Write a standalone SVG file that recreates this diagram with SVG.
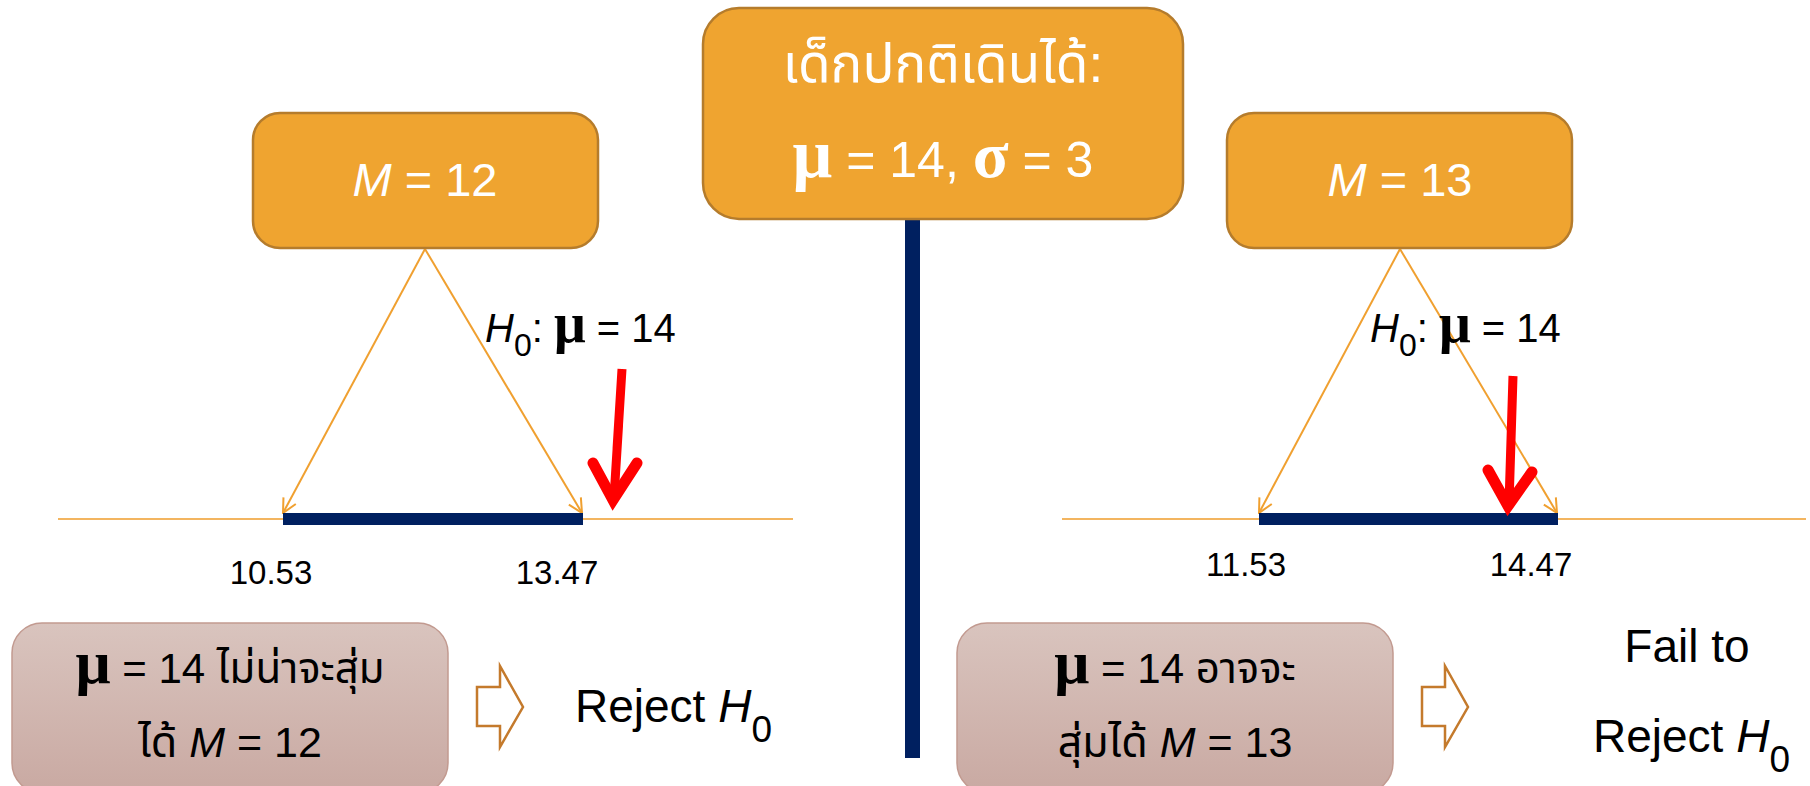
<svg xmlns="http://www.w3.org/2000/svg" width="1810" height="786" viewBox="0 0 1810 786">
<defs>
<style>
.t{font-family:"Liberation Sans","Noto Sans Thai","Noto Sans Thai Looped","Garuda","Loma","Norasi",sans-serif;}
.g{font-family:"Liberation Serif","DejaVu Serif",serif;font-weight:bold;}
.w{fill:#ffffff;}
.k{fill:#000000;}
.ob{fill:#efa430;stroke:#b57c2c;stroke-width:2.5;}
.pb{fill:url(#pg);stroke:#c29a90;stroke-width:1.5;}
.con{stroke:#f0a030;stroke-width:2;fill:none;marker-end:url(#oa);}
.axis{stroke:#f3b560;stroke-width:2;}
.bar{fill:#002060;}
.red{stroke:#ff0000;fill:none;}
.blk{fill:#ffffff;stroke:#c47a2c;stroke-width:2.5;stroke-linejoin:miter;}
</style>
<linearGradient id="pg" x1="0" y1="0" x2="0" y2="1">
<stop offset="0" stop-color="#d9c4be"/>
<stop offset="1" stop-color="#c9a9a2"/>
</linearGradient>
<marker id="oa" viewBox="0 0 16 16" refX="15" refY="8" markerWidth="16" markerHeight="16" markerUnits="userSpaceOnUse" orient="auto">
<path d="M1,1 L15,8 L1,15" fill="none" stroke="#f0a030" stroke-width="2"/>
</marker>
</defs>
<rect width="1810" height="786" fill="#ffffff"/>

<g id="axes">
<line class="axis" x1="58" y1="519" x2="793" y2="519"/>
<line class="axis" x1="1062" y1="519" x2="1806" y2="519"/>
</g>

<g id="connectors">
<line class="con" x1="425" y1="249" x2="283" y2="513"/>
<line class="con" x1="425" y1="249" x2="582" y2="513"/>
<line class="con" x1="1400" y1="249" x2="1259" y2="513"/>
<line class="con" x1="1400" y1="249" x2="1557" y2="513"/>
</g>

<g id="divider">
<rect class="bar" x="905" y="216" width="15" height="542"/>
</g>

<g id="node-pop">
<rect class="ob" x="703" y="8" width="480" height="211" rx="36"/>
<text class="t w" x="943" y="82" font-size="53" text-anchor="middle">เด็กปกติเดินได้:</text>
<text class="t w" x="943" y="177" font-size="50" text-anchor="middle"><tspan class="g" font-size="70">μ</tspan> = 14, <tspan class="g" font-size="66" font-weight="normal">σ</tspan> = 3</text>
</g>

<g id="node-m12">
<rect class="ob" x="253" y="113" width="345" height="135" rx="27"/>
<text class="t w" x="425" y="196" font-size="47" text-anchor="middle"><tspan font-style="italic">M</tspan> = 12</text>
</g>

<g id="node-m13">
<rect class="ob" x="1227" y="113" width="345" height="135" rx="27"/>
<text class="t w" x="1400" y="196" font-size="47" text-anchor="middle"><tspan font-style="italic">M</tspan> = 13</text>
</g>

<g id="interval-left">
<rect class="bar" x="283" y="513" width="300" height="12"/>
<text class="t k" x="271" y="584" font-size="33" text-anchor="middle">10.53</text>
<text class="t k" x="557" y="584" font-size="33" text-anchor="middle">13.47</text>
</g>

<g id="interval-right">
<rect class="bar" x="1259" y="513" width="299" height="12"/>
<text class="t k" x="1246" y="576" font-size="33" text-anchor="middle">11.53</text>
<text class="t k" x="1531" y="576" font-size="33" text-anchor="middle">14.47</text>
</g>

<g id="h0-left">
<text class="t k" x="485" y="342" font-size="40"><tspan font-style="italic">H</tspan><tspan font-size="32" dy="14">0</tspan><tspan dy="-14">: </tspan><tspan class="g" font-size="56">μ</tspan> = 14</text>
<line class="red" x1="622" y1="369" x2="614" y2="498" stroke-width="9"/>
<path class="red" d="M593,463 L613,500 L637,463" stroke-width="11" stroke-linecap="round" stroke-linejoin="miter"/>
</g>

<g id="h0-right">
<text class="t k" x="1370" y="342" font-size="40"><tspan font-style="italic">H</tspan><tspan font-size="32" dy="14">0</tspan><tspan dy="-14">: </tspan><tspan class="g" font-size="56">μ</tspan> = 14</text>
<line class="red" x1="1513" y1="376" x2="1509" y2="504" stroke-width="9"/>
<path class="red" d="M1488,470 L1508,506 L1532,472" stroke-width="11" stroke-linecap="round" stroke-linejoin="miter"/>
</g>

<g id="node-unlikely">
<rect class="pb" x="12" y="623" width="436" height="170" rx="30"/>
<text class="t k" x="230" y="683" font-size="42" text-anchor="middle"><tspan class="g" font-size="62">μ</tspan> = 14 ไม่น่าจะสุ่ม</text>
<text class="t k" x="230" y="757" font-size="43" text-anchor="middle">ได้ <tspan font-style="italic">M</tspan> = 12</text>
</g>

<g id="arrow-left">
<path class="blk" d="M477,687 L500,687 L500,666 L523,707 L500,747 L500,726 L477,726 Z"/>
</g>

<g id="result-left">
<text class="t k" x="575" y="722" font-size="46">Reject <tspan font-style="italic">H</tspan><tspan font-size="37" dy="20">0</tspan></text>
</g>

<g id="node-possible">
<rect class="pb" x="957" y="623" width="436" height="170" rx="30"/>
<text class="t k" x="1175" y="683" font-size="42" text-anchor="middle"><tspan class="g" font-size="62">μ</tspan> = 14 อาจจะ</text>
<text class="t k" x="1175" y="757" font-size="43" text-anchor="middle">สุ่มได้ <tspan font-style="italic">M</tspan> = 13</text>
</g>

<g id="arrow-right">
<path class="blk" d="M1422,687 L1445,687 L1445,666 L1468,707 L1445,747 L1445,726 L1422,726 Z"/>
</g>

<g id="result-right">
<text class="t k" x="1687" y="662" font-size="46" text-anchor="middle">Fail to</text>
<text class="t k" x="1593" y="752" font-size="46">Reject <tspan font-style="italic">H</tspan><tspan font-size="37" dy="20">0</tspan></text>
</g>
</svg>
